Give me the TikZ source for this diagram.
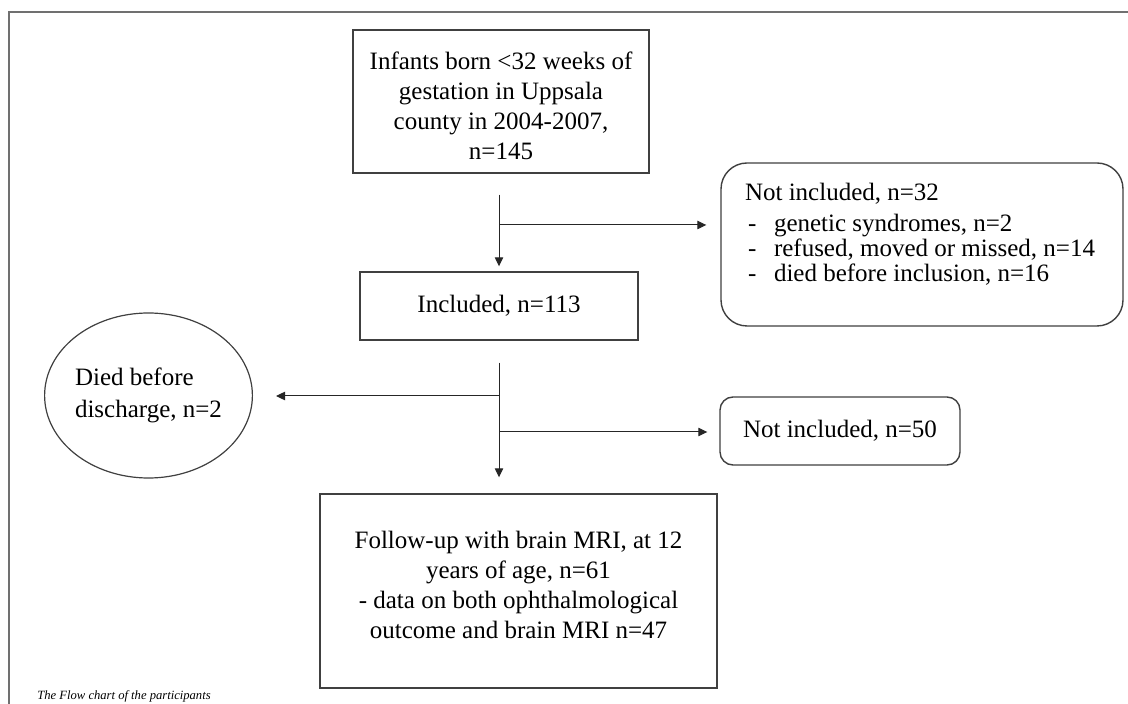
\documentclass[tikz,border=0pt]{standalone}
\usepackage{fontspec}
\setmainfont{Liberation Serif}
\usetikzlibrary{shapes.geometric,arrows.meta}
\definecolor{framec}{HTML}{707070}
\definecolor{boxc}{HTML}{404040}
\tikzset{
  sqbox/.style={draw=boxc, line width=0.7pt, rectangle, inner sep=0pt, align=center,
    font=\fontsize{12.5pt}{15pt}\selectfont},
  rbox/.style={sqbox, rounded corners=6.5pt},
  oval/.style={draw=boxc, line width=0.6pt, ellipse, inner sep=0pt, align=left,
    font=\fontsize{12.5pt}{16pt}\selectfont, minimum width=97.5pt, minimum height=82.5pt},
  arr/.style={draw=black!85, line width=0.5pt, -{Triangle[length=4.5pt,width=4.2pt]}},
  captext/.style={font=\fontsize{6.3pt}{7pt}\selectfont\itshape, anchor=base west, inner sep=0pt}
}
\begin{document}
\begin{tikzpicture}[x=0.5pt,y=-0.5pt]
\useasboundingbox (0,0) rectangle (1128,704);
\fill[white] (0,0) rectangle (1128,704);
\draw[framec, line width=1.2pt] (1128,12) -- (9,12) -- (9,704);

\node[sqbox, minimum width=148pt, minimum height=71.5pt] (top) at (501,101.5)
  {\rule{0pt}{13pt}Infants born <32 weeks of\\gestation in Uppsala\\county in 2004-2007,\\n=145};
\node[rbox, rounded corners=13pt, minimum width=201pt, minimum height=81.5pt] (excl) at (922,244.5)
  {\parbox[c][66.5pt][t]{177pt}{\raggedright\fontsize{12.5pt}{12.3pt}\selectfont
   \rule{0pt}{11.5pt}Not included, n=32\\[3.2pt]
   \hspace*{1.5pt}\makebox[13pt][l]{-}genetic syndromes, n=2\\
   \hspace*{1.5pt}\makebox[13pt][l]{-}refused, moved or missed, n=14\\
   \hspace*{1.5pt}\makebox[13pt][l]{-}died before inclusion, n=16}};
\node[sqbox, minimum width=139pt, minimum height=34pt] (incl) at (499,306) {Included, n=113};
\node[oval] (died) at (148.5,395.5) {Died before\\discharge, n=2};
\node[rbox, minimum width=120pt, minimum height=34pt] (small) at (840,431) {Not included, n=50};
\node[sqbox, minimum width=198.5pt, minimum height=97pt] (follow) at (518.5,591)
  {Follow-up with brain MRI, at 12\\years of age, n=61\\- data on both ophthalmological\\outcome and brain MRI n=47\rule[-6.5pt]{0pt}{1pt}};

\coordinate (j1) at (499,225);
\coordinate (j2) at (499,396);
\coordinate (j3) at (499,432);

\draw[arr, shorten <=10.5pt, shorten >=2.5pt] (top.south -| incl.north) -- (incl.north);
\draw[arr, shorten >=7pt] (j1) -- (j1 -| excl.west);
\draw[arr, shorten <=11pt, shorten >=8pt] (incl.south) -- (incl.south |- follow.north);
\draw[arr, shorten >=11.5pt] (j2) -- (j2 -| died.east);
\draw[arr, shorten >=6pt] (j3) -- (j3 -| small.west);

\node[captext] (caption) at (37,699) {The Flow chart of the participants};
\end{tikzpicture}
\end{document}
